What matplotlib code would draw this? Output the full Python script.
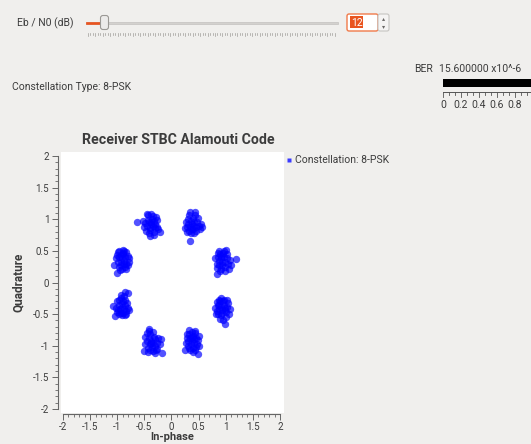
import matplotlib.pyplot as plt
from matplotlib.patches import Rectangle, FancyBboxPatch
from matplotlib.ticker import MultipleLocator

plt.rcParams['font.family'] = ['Roboto', 'DejaVu Sans']

# received symbols after the Alamouti combiner (I, Q), grouped per 8-PSK point
received_iq = [
    # -0.38 + 0.92j
    (-0.38, 0.92), (-0.42, 0.95), (-0.34, 0.90), (-0.40, 0.86), (-0.33, 0.97), (-0.45, 0.90),
    (-0.36, 1.00), (-0.30, 0.93), (-0.44, 0.99), (-0.39, 0.83), (-0.31, 0.86), (-0.48, 0.94),
    (-0.35, 1.05), (-0.43, 1.06), (-0.27, 0.99), (-0.50, 0.87), (-0.26, 0.88), (-0.41, 0.78),
    (-0.33, 0.80), (-0.22, 0.80), (-0.24, 0.84), (-0.40, 0.73), (-0.63, 0.95), (-0.53, 0.98),
    (-0.46, 1.08), (-0.29, 1.03), (-0.37, 0.95), (-0.47, 0.82), (-0.37, 1.08), (-0.32, 0.75),
    # 0.38 + 0.92j
    (0.38, 0.92), (0.34, 0.88), (0.42, 0.95), (0.36, 0.97), (0.45, 0.88), (0.31, 0.93),
    (0.40, 0.84), (0.33, 0.82), (0.47, 0.96), (0.39, 1.02), (0.28, 0.88), (0.44, 1.06),
    (0.30, 1.00), (0.50, 0.90), (0.36, 0.78), (0.42, 0.79), (0.27, 0.95), (0.52, 0.84),
    (0.57, 0.88), (0.35, 1.12), (0.44, 1.11), (0.35, 0.65), (0.25, 0.86), (0.48, 1.02),
    (0.32, 1.07), (0.41, 0.90), (0.37, 0.85), (0.46, 0.82), (0.29, 0.80), (0.55, 0.93),
    # 0.92 + 0.38j
    (0.92, 0.38), (0.88, 0.34), (0.96, 0.41), (0.90, 0.45), (0.99, 0.33), (0.85, 0.40),
    (0.94, 0.28), (1.02, 0.39), (0.87, 0.50), (0.96, 0.50), (0.83, 0.30), (1.05, 0.30),
    (0.91, 0.22), (0.98, 0.24), (1.08, 0.36), (1.18, 0.37), (0.84, 0.13), (0.89, 0.18),
    (0.86, 0.47), (1.03, 0.45), (0.93, 0.33), (0.81, 0.38), (0.99, 0.18), (1.10, 0.28),
    (0.95, 0.46), (0.88, 0.27), (1.00, 0.52), (0.84, 0.23), (0.92, 0.42), (1.06, 0.22),
    # 0.92 - 0.38j
    (0.92, -0.38), (0.88, -0.42), (0.96, -0.35), (0.90, -0.30), (0.99, -0.44), (0.85, -0.36),
    (0.94, -0.48), (1.02, -0.38), (0.87, -0.27), (0.97, -0.27), (0.83, -0.45), (1.05, -0.32),
    (0.91, -0.52), (1.00, -0.55), (0.98, -0.65), (0.95, -0.60), (0.81, -0.40), (1.08, -0.42),
    (0.89, -0.57), (0.93, -0.44), (1.03, -0.28), (0.86, -0.50), (0.98, -0.40), (0.84, -0.31),
    (1.06, -0.50), (0.92, -0.25), (1.00, -0.47), (0.88, -0.35), (0.95, -0.30), (0.82, -0.50),
    # 0.38 - 0.92j
    (0.38, -0.92), (0.34, -0.88), (0.42, -0.95), (0.36, -0.98), (0.45, -0.88), (0.31, -0.93),
    (0.40, -0.84), (0.33, -0.82), (0.47, -0.97), (0.39, -1.03), (0.29, -0.88), (0.44, -1.06),
    (0.30, -1.00), (0.49, -0.91), (0.37, -0.78), (0.44, -0.80), (0.27, -0.96), (0.51, -0.85),
    (0.25, -1.07), (0.48, -1.13), (0.40, -1.10), (0.35, -1.06), (0.28, -0.82), (0.46, -1.02),
    (0.33, -0.75), (0.41, -0.90), (0.37, -0.86), (0.50, -1.00), (0.32, -1.03), (0.43, -0.76),
    # -0.38 - 0.92j
    (-0.38, -0.92), (-0.42, -0.88), (-0.34, -0.95), (-0.40, -0.98), (-0.33, -0.86), (-0.45, -0.93),
    (-0.36, -1.02), (-0.30, -0.90), (-0.44, -1.04), (-0.39, -0.82), (-0.31, -1.00), (-0.48, -0.86),
    (-0.35, -1.08), (-0.43, -1.10), (-0.27, -0.95), (-0.49, -0.98), (-0.26, -1.05), (-0.41, -0.76),
    (-0.35, -0.79), (-0.20, -0.90), (-0.22, -0.98), (-0.18, -1.12), (-0.42, -0.73), (-0.50, -1.08),
    (-0.30, -1.12), (-0.37, -0.95), (-0.46, -0.80), (-0.28, -1.06), (-0.24, -0.88), (-0.40, -1.06),
    # -0.92 - 0.38j
    (-0.92, -0.38), (-0.88, -0.42), (-0.96, -0.35), (-0.90, -0.30), (-0.99, -0.44), (-0.85, -0.36),
    (-0.94, -0.48), (-0.86, -0.27), (-0.97, -0.27), (-0.83, -0.45), (-1.03, -0.40), (-0.91, -0.52),
    (-0.80, -0.40), (-0.88, -0.22), (-0.93, -0.20), (-0.85, -0.15), (-0.80, -0.16), (-1.05, -0.53),
    (-1.07, -0.37), (-0.82, -0.32), (-0.95, -0.42), (-0.89, -0.48), (-1.00, -0.30), (-0.78, -0.44),
    (-0.97, -0.50), (-0.86, -0.52), (-0.91, -0.33), (-0.84, -0.50), (-1.01, -0.47), (-0.94, -0.25),
    # -0.92 + 0.38j
    (-0.92, 0.38), (-0.88, 0.34), (-0.96, 0.41), (-0.90, 0.45), (-0.99, 0.33), (-0.85, 0.40),
    (-0.94, 0.28), (-0.87, 0.50), (-0.96, 0.50), (-0.83, 0.30), (-1.02, 0.38), (-0.91, 0.22),
    (-0.81, 0.42), (-0.78, 0.38), (-0.86, 0.25), (-1.06, 0.27), (-1.00, 0.15), (-0.95, 0.20),
    (-0.80, 0.28), (-0.89, 0.46), (-0.93, 0.33), (-1.01, 0.44), (-0.84, 0.48), (-0.97, 0.25),
    (-0.90, 0.52), (-0.79, 0.33), (-0.94, 0.44), (-0.88, 0.29), (-0.99, 0.48), (-0.83, 0.21),
]

axis_ticks = [-2, -1.5, -1, -0.5, 0, 0.5, 1, 1.5, 2]
ber_ticks = [0, 0.2, 0.4, 0.6, 0.8]
ebn0_db = 12
ber_text = '15.600000 x10^-6'

bg = '#f0efed'
fg = '#3c3c3c'
orange = '#e9541f'

fig = plt.figure(figsize=(5.31, 4.44), dpi=100, facecolor=bg)

# widget layer in pixel coordinates (y down)
gui = fig.add_axes([0, 0, 1, 1], zorder=0)
gui.set_xlim(0, 531)
gui.set_ylim(444, 0)
gui.axis('off')
gui.patch.set_alpha(0)

# Eb/N0 slider
gui.text(17, 23, 'Eb / N0 (dB)', fontsize=7.5, color=fg, va='center')
gui.add_patch(Rectangle((86, 22), 252, 2.5, facecolor='#d3d1ce', edgecolor='#c4c2bf', lw=0.5))
gui.add_patch(Rectangle((86, 22), 16, 2.5, facecolor=orange, edgecolor=orange, lw=0.5))
gui.add_patch(FancyBboxPatch((101, 16), 7, 13, boxstyle='round,pad=0.5,rounding_size=2.5',
                             facecolor='#ecebea', edgecolor='#9b9995', lw=0.8))
for k in range(100):
    x = 88 + k * 2.49
    gui.plot([x, x], [33, 35.5 if k % 3 else 36], color='#a09e9b', lw=0.5)

# spin box
gui.add_patch(FancyBboxPatch((347, 14), 31, 17, boxstyle='round,pad=0,rounding_size=2',
                             facecolor='white', edgecolor='#f07a4a', lw=1.0))
gui.add_patch(FancyBboxPatch((378, 14), 11, 17, boxstyle='round,pad=0,rounding_size=2',
                             facecolor='#f5f4f3', edgecolor='#c6c4c1', lw=0.8))
gui.add_patch(Rectangle((350, 16.5), 13, 12, facecolor=orange, edgecolor='none'))
gui.text(356.5, 22.5, str(ebn0_db), fontsize=7.5, color='white', ha='center', va='center')
gui.text(383.5, 18.5, '\u25b4', fontsize=4.5, color='#6a6866', ha='center', va='center')
gui.text(383.5, 26.5, '\u25be', fontsize=4.5, color='#6a6866', ha='center', va='center')

gui.text(12, 87, 'Constellation Type: 8-PSK', fontsize=7.5, color=fg, va='center')

# BER bar
gui.text(414, 69, 'BER', fontsize=7.5, color=fg, va='center')
gui.text(439, 69, ber_text, fontsize=7.5, color=fg, va='center')
gui.add_patch(Rectangle((443, 79.5), 100, 7.5, facecolor='black', edgecolor='none'))
gui.plot([443, 531], [92, 92], color='#555555', lw=0.7)
for k in range(15):
    x = 443 + k * 6.0
    gui.plot([x, x], [92, 97 if k % 3 == 0 else 95.5], color='#555555', lw=0.6)
for v in ber_ticks:
    gui.text(443 + v * 90, 105, f'{v:g}', fontsize=7.5, color=fg, ha='center', va='center')

# constellation plot
ax = fig.add_axes([61 / 531, 1 - 413 / 444, 223 / 531, 261 / 444], zorder=1)
ax.set_facecolor('white')
i_vals = [p[0] for p in received_iq]
q_vals = [p[1] for p in received_iq]
ax.scatter(i_vals, q_vals, s=28, color='#0000ff', alpha=0.68, linewidths=0)

ax.set_xlim(-2.037, 2.074)
ax.set_ylim(-2.063, 2.063)
ax.set_xticks(axis_ticks)
ax.set_yticks(axis_ticks)
ax.set_xticklabels([f'{t:g}' for t in axis_ticks])
ax.set_yticklabels([f'{t:g}' for t in axis_ticks])
ax.xaxis.set_minor_locator(MultipleLocator(0.1))
ax.yaxis.set_minor_locator(MultipleLocator(0.1))
for side in ['top', 'right']:
    ax.spines[side].set_visible(False)
ax.spines['left'].set_position(('outward', 2))
ax.spines['bottom'].set_position(('outward', 0.5))
ax.spines['left'].set_bounds(-2, 2)
ax.spines['bottom'].set_bounds(-2, 2)
for side in ['left', 'bottom']:
    ax.spines[side].set_color('#666666')
    ax.spines[side].set_linewidth(0.8)
ax.tick_params(which='major', length=4.5, width=0.7, color='#666666', labelsize=7,
               labelcolor=fg, pad=2)
ax.tick_params(axis='x', which='major', pad=1.5)
ax.tick_params(which='minor', length=2.2, width=0.6, color='#666666')

ax.set_ylabel('Quadrature', fontsize=8.5, fontweight='bold', color=fg)
ax.yaxis.set_label_coords(-0.161, 0.5)
ax.set_xlabel('In-phase', fontsize=8, fontweight='bold', color=fg)
ax.xaxis.set_label_coords(0.5, -0.072)

gui.text(178, 140, 'Receiver STBC Alamouti Code', fontsize=10.2, fontweight='bold',
         color=fg, ha='center', va='center')

# legend entry
gui.plot([289], [160], 's', ms=3, color='#3b3bff', mec='none')
gui.text(295, 160, 'Constellation: 8-PSK', fontsize=7.5, color=fg, va='center')

fig.savefig('out.png', dpi=100, facecolor=bg)
